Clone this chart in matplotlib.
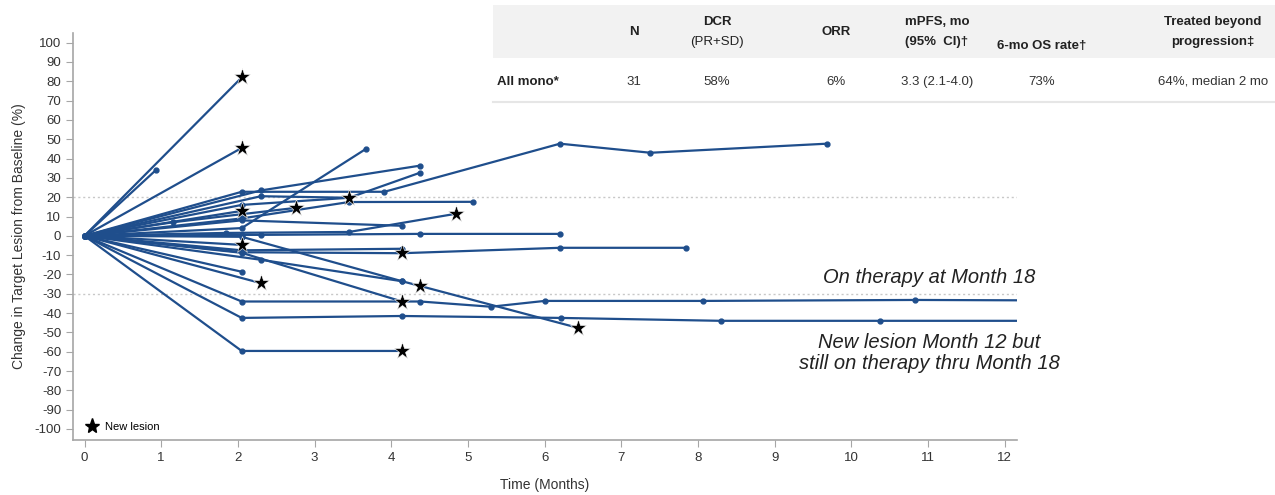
import matplotlib
matplotlib.use("Agg")
import matplotlib.pyplot as plt
from matplotlib.lines import Line2D
from matplotlib.patches import Rectangle

plt.rcParams['font.family'] = ['Liberation Sans', 'DejaVu Sans']
plt.rcParams['axes.unicode_minus'] = False

# per-patient follow-up (months) and change in target lesion (%)
months = [
    [0, 2.05], [0, 0.93], [0, 2.05], [0, 2.05, 3.67],
    [0, 2.05, 3.91, 6.2, 7.38, 9.68], [0, 2.3, 4.37], [0, 2.05, 3.45, 4.37],
    [0, 2.05], [0, 1.15, 2.76], [0, 2.05, 3.45, 5.07], [0, 1.84, 3.45, 4.84],
    [0, 2.05, 4.14], [0, 2.05, 2.3, 4.37, 6.2], [0, 2.05],
    [0, 2.05, 4.14, 6.2, 7.84], [0, 2.05, 4.14], [0, 2.05, 4.14],
    [0, 2.3, 4.14], [0, 2.05, 4.14, 4.38, 6.44], [0, 2.05], [0, 2.3],
    [0, 2.05, 4.14, 4.38, 5.3, 6.0, 8.07, 10.83, 13],
    [0, 2.05, 4.14, 6.21, 8.3, 10.37, 13], [0, 2.05, 4.14], [0, 2.3, 3.45],
]
changes = [
    [0, 82], [0, 34], [0, 45.5], [0, 4, 45],
    [0, 22.8, 22.8, 47.7, 43, 47.7], [0, 23.5, 36.3], [0, 16, 19.7, 32.6],
    [0, 12.9], [0, 7, 14.5], [0, 9, 17.5, 17.6], [0, 1.5, 2, 11.4],
    [0, 8, 5.2], [0, 0.5, 0.5, 1, 1], [0, -4.7],
    [0, -8.5, -9, -6.2, -6.2], [0, -7.5, -6.7], [0, -8.8, -34],
    [0, -12.4, -23.5], [0, -0.5, -23.5, -26, -47.7], [0, -18.6], [0, -24.5],
    [0, -34, -34, -34, -36.7, -33.7, -33.7, -33.2, -33.5],
    [0, -42.5, -41.5, -42.5, -44, -44, -44], [0, -59.6, -59.6], [0, 20.5, 19.7],
]
# month at which a new lesion was seen (star)
new_lesion = [
    [2.05], [], [2.05], [], [], [], [3.45], [2.05], [2.76], [], [4.84],
    [], [], [2.05], [4.14], [], [], [], [4.38, 6.44], [], [2.3],
    [4.14], [], [4.14], [],
]
thresholds = [20, -30]

col_heads = ['N', 'DCR', 'ORR', 'mPFS, mo', '6-mo OS rate\u2020', 'Treated beyond']
col_sub = ['', '(PR+SD)', '', '(95%  CI)\u2020', '', 'progression\u2021']
row_label = 'All mono*'
row_vals = ['31', '58%', '6%', '3.3 (2.1-4.0)', '73%', '64%, median 2 mo']

blue = '#1f4e8c'
grey = '#a6a6a6'

fig = plt.figure(figsize=(12.75, 4.95), dpi=100)
ax = fig.add_axes([73 / 1275, 1 - 440 / 495, (1017 - 73) / 1275, (440 - 33) / 495])

for t in thresholds:
    ax.axhline(t, color='#c8c8c8', lw=1, ls=(0, (1.5, 2)), zorder=1)

for m, c, stars in zip(months, changes, new_lesion):
    ax.plot(m, c, color=blue, lw=1.6, marker='o', ms=3.5, zorder=2)
    for s in stars:
        ax.plot(s, c[m.index(s)], marker='*', color='black', ms=12.5,
                markeredgecolor='white', markeredgewidth=0.4, zorder=4)

ax.set_xlim(-0.15, 12.16)
ax.set_ylim(-105.7, 105)
ax.set_xticks(range(0, 13))
ax.set_yticks(range(-100, 101, 10))
for side in ['top', 'right']:
    ax.spines[side].set_visible(False)
for side in ['left', 'bottom']:
    ax.spines[side].set_color(grey)
    ax.spines[side].set_linewidth(1.2)
ax.tick_params(colors=grey, labelcolor='#333333', labelsize=9.5, length=5)
ax.set_xlabel('Time (Months)', fontsize=10, color='#333333', labelpad=10)
ax.set_ylabel('Change in Target Lesion from Baseline (%)', fontsize=10,
              color='#333333', labelpad=6)

ax.text(11.02, -21.8, 'On therapy at Month 18', ha='center', va='center',
        style='italic', fontsize=14.5, color='#222222')
ax.text(11.02, -60.6, 'New lesion Month 12 but\nstill on therapy thru Month 18',
        ha='center', va='center', style='italic', fontsize=14.5,
        color='#222222', linespacing=1.1)

h = Line2D([], [], marker='*', color='black', ls='None', ms=11)
ax.legend([h], ['New lesion'], loc='lower left', frameon=False, fontsize=8,
          handletextpad=0.2, borderaxespad=0.3, bbox_to_anchor=(0.0, 0.0))

# summary table in top right
def fx(x):
    return x / 1275

def fy(y):
    return 1 - y / 495

fig.add_artist(Rectangle((fx(493), fy(103)), fx(1275 - 493), 98 / 495,
                         transform=fig.transFigure, facecolor='white',
                         edgecolor='none', zorder=5))
fig.add_artist(Rectangle((fx(493), fy(58)), fx(1275 - 493), 53 / 495,
                         transform=fig.transFigure, facecolor='#f2f2f2',
                         edgecolor='none', zorder=6))
fig.add_artist(Line2D([fx(493), 1], [fy(102), fy(102)],
                      transform=fig.transFigure, color='#e6e6e6', lw=1.5, zorder=6))

col_x = [634, 717, 836, 937, 1042, 1213]
for x, head, sub, val in zip(col_x, col_heads, col_sub, row_vals):
    if sub:
        fig.text(fx(x), fy(22), head, ha='center', va='center', fontsize=9.5,
                 fontweight='bold', color='#222222', zorder=7)
        fig.text(fx(x), fy(42), sub, ha='center', va='center', fontsize=9.5,
                 fontweight='bold' if head != 'DCR' else 'normal',
                 color='#222222', zorder=7)
    elif head.startswith('6-mo'):
        fig.text(fx(x), fy(46), head, ha='center', va='center', fontsize=9.5,
                 fontweight='bold', color='#222222', zorder=7)
    else:
        fig.text(fx(x), fy(32), head, ha='center', va='center', fontsize=9.5,
                 fontweight='bold', color='#222222', zorder=7)
    fig.text(fx(x), fy(82), val, ha='center', va='center', fontsize=9.5,
             color='#333333', zorder=7)
fig.text(fx(497), fy(82), row_label, ha='left', va='center', fontsize=9.5,
         fontweight='bold', color='#222222', zorder=7)

fig.savefig('out.png', dpi=100)
